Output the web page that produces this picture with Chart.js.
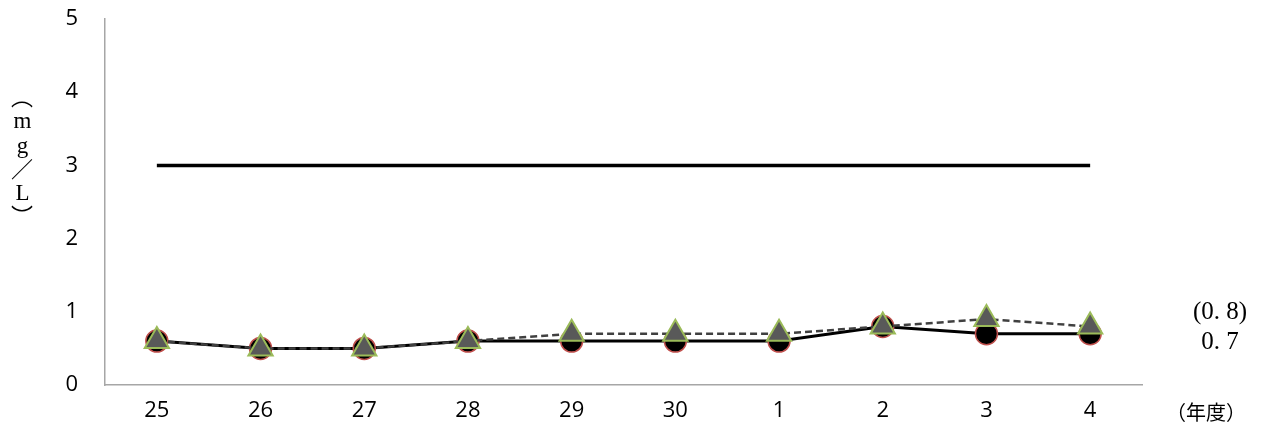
<!DOCTYPE html>
<html>
<head>
<meta charset="utf-8">
<script src="https://cdn.jsdelivr.net/npm/chart.js@4.4.1/dist/chart.umd.min.js"></script>
<style>
    html, body { margin: 0; padding: 0; background: #fff; }
    #wrap { width: 1263px; height: 435px; position: relative; }
    /* vertical unit label of the y axis */
    #unit {
        position: absolute; left: 10px; top: 86px; width: 24px;
        writing-mode: vertical-rl;
        font: 22px "Noto Sans CJK JP", sans-serif; line-height: 24px;
        color: #000;
    }
    #unit .u { text-orientation: upright; font-family: "Liberation Serif", serif; font-size: 23px; }
    #unit .s { text-orientation: upright; }
</style>
</head>
<body>
<div id="wrap">
    <canvas id="chart"></canvas>
    <div id="unit"><span>（</span><span class="u">mg</span><span class="s">／</span><span class="u">L</span><span>）</span></div>
</div>
<script>
    // data
    const years = ['25', '26', '27', '28', '29', '30', '1', '2', '3', '4'];
    const measured = [0.6, 0.5, 0.5, 0.6, 0.6, 0.6, 0.6, 0.8, 0.7, 0.7];
    const measuredAlt = [0.6, 0.5, 0.5, 0.6, 0.7, 0.7, 0.7, 0.8, 0.9, 0.8];
    const standard = [3, 3, 3, 3, 3, 3, 3, 3, 3, 3];
    const yTicks = [0, 1, 2, 3, 4, 5];

    const serif = '"Liberation Serif", "DejaVu Serif", serif';
    const cjk = '"Noto Sans CJK JP", sans-serif';
    const tickFont = { family: '"Open Sans", "Noto Sans", sans-serif', size: 22 };

    // extra texts: end values and x unit
    const sideText = {
        id: 'sideText',
        afterDraw(chart) {
            const ctx = chart.ctx;
            ctx.save();
            ctx.fillStyle = '#000';
            ctx.textAlign = 'center';
            ctx.textBaseline = 'middle';
            ctx.font = '25px ' + serif;
            ctx.fillText('(0. 8)', 1220, 312);
            ctx.fillText('0. 7', 1220, 342);
            ctx.font = '20px ' + cjk;
            ctx.fillText('（年度）', 1206, 412);
            ctx.restore();
        }
    };

    new Chart(document.getElementById('chart'), {
        type: 'line',
        data: {
            labels: years,
            datasets: [
                {
                    label: 'standard',
                    data: standard,
                    borderColor: '#000',
                    borderWidth: 3.5,
                    pointRadius: 0,
                    order: 3
                },
                {
                    label: 'measured',
                    data: measured,
                    borderColor: '#000',
                    borderWidth: 3,
                    pointStyle: 'circle',
                    pointRadius: 11,
                    pointBackgroundColor: '#000',
                    pointBorderColor: '#C0504D',
                    pointBorderWidth: 1.5,
                    order: 2
                },
                {
                    label: 'measuredAlt',
                    data: measuredAlt,
                    borderColor: '#404040',
                    borderWidth: 2.5,
                    borderDash: [7, 4],
                    pointStyle: 'triangle',
                    pointRadius: 14,
                    pointBackgroundColor: '#595959',
                    pointBorderColor: '#9BBB59',
                    pointBorderWidth: 2,
                    order: 1
                }
            ]
        },
        options: {
            responsive: true,
            maintainAspectRatio: false,
            animation: false,
            layout: { padding: { left: 0, right: 121, top: 19, bottom: 0 } },
            plugins: {
                legend: { display: false },
                tooltip: { enabled: false }
            },
            scales: {
                x: {
                    offset: true,
                    grid: { display: false, drawTicks: false },
                    border: { display: true, color: '#A6A6A6', width: 1.5 },
                    ticks: { color: '#000', font: tickFont, padding: 13, maxRotation: 0 },
                    afterFit: (s) => { s.height = 50; s.paddingLeft = 0; s.paddingRight = 0; }
                },
                y: {
                    min: 0,
                    max: 5,
                    afterBuildTicks: (s) => { s.ticks = yTicks.map(v => ({ value: v })); },
                    grid: { display: false, drawTicks: false },
                    border: { display: true, color: '#A6A6A6', width: 1.5 },
                    ticks: { color: '#000', font: tickFont, padding: 27 },
                    afterFit: (s) => { s.width = 105; s.paddingTop = 0; s.paddingBottom = 0; }
                }
            }
        },
        plugins: [sideText]
    });
</script>
</body>
</html>
